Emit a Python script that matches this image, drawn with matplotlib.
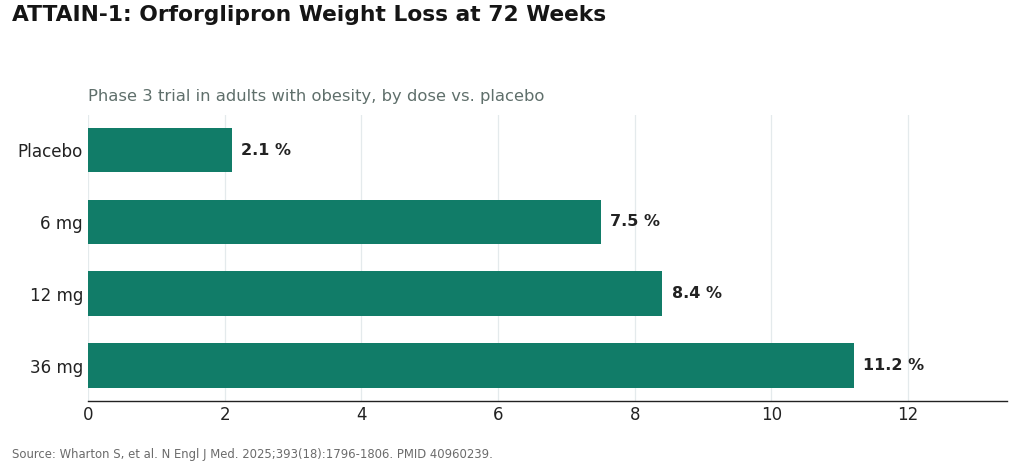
import matplotlib.pyplot as plt

plt.rcParams["font.family"] = ["DejaVu Sans"]

categories = ["Placebo", "6 mg", "12 mg", "36 mg"]
weight_loss = [2.1, 7.5, 8.4, 11.2]
xticks = [0, 2, 4, 6, 8, 10, 12]

bar_color = "#117c68"

fig = plt.figure(figsize=(10.24, 4.65), dpi=100)
ax = fig.add_axes([0.086, 0.138, 0.897, 0.615])

ypos = list(range(len(categories)))
ax.barh(ypos, weight_loss, height=0.62, color=bar_color, zorder=2)
ax.invert_yaxis()
ax.set_yticks(ypos)
ax.set_yticklabels(categories, fontsize=12.1, color="#222222")
ax.set_xticks(xticks)
ax.tick_params(axis="x", labelsize=12, length=0, pad=3.5, colors="#222222")
ax.tick_params(axis="y", length=0, pad=3.6)
ax.set_xlim(0, max(weight_loss) * 1.2)

for y, v in zip(ypos, weight_loss):
    ax.text(v + 0.14, y, f"{v} %", va="center", ha="left",
            fontsize=11.5, fontweight="bold", color="#222222")

ax.grid(axis="x", color="#e4eaec", linewidth=0.9, zorder=0)
ax.set_axisbelow(True)
for side in ["top", "right", "left"]:
    ax.spines[side].set_visible(False)
ax.spines["bottom"].set_color("#222222")
ax.spines["bottom"].set_linewidth(1.0)

fig.text(0.012, 0.99, "ATTAIN-1: Orforglipron Weight Loss at 72 Weeks",
         fontsize=15.7, fontweight="bold", color="#151515", va="top", ha="left")
fig.text(0.086, 0.783, "Phase 3 trial in adults with obesity, by dose vs. placebo",
         fontsize=11.75, color="#5f6f6b", va="baseline", ha="left")
fig.text(0.012, 0.015, "Source: Wharton S, et al. N Engl J Med. 2025;393(18):1796-1806. PMID 40960239.",
         fontsize=8.38, color="#6b6b6b", va="baseline", ha="left")

fig.savefig("out.png", dpi=100)
